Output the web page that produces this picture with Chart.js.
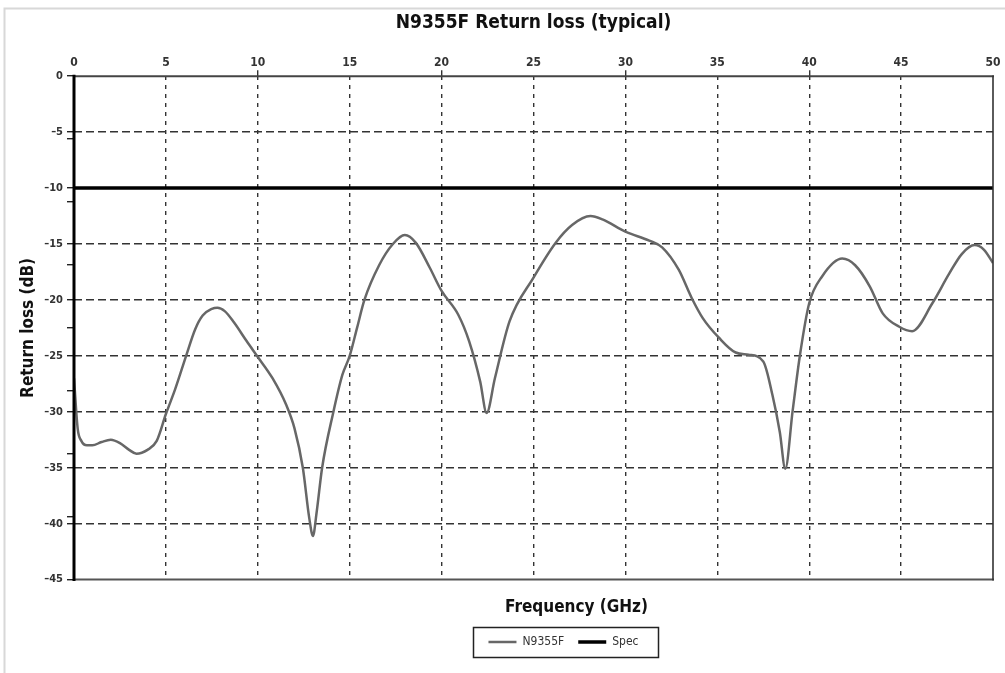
<!DOCTYPE html>
<html lang="es">
<head>
<meta charset="utf-8">
<title>N9355F Return loss (typical)</title>
<script src="https://cdn.jsdelivr.net/npm/chart.js@4.4.0/dist/chart.umd.min.js"></script>
<style>
  html, body { margin: 0; padding: 0; background: #fff; }
</style>
</head>
<body>
<canvas id="grafico" width="1005" height="673"></canvas>
<script>
// valores (frecuencia en GHz, perdida de retorno en dB)
const frecuencias = [
    0, 0.2, 0.4, 0.7, 1.0, 1.5, 2.0, 2.5, 3.0, 3.4, 4.0, 4.5, 5.0, 5.5, 6.1, 6.6,
    7.0, 7.5, 7.8, 8.2, 8.7, 9.4, 10.0, 10.8, 11.55, 12.0, 12.45, 12.8, 13.0, 13.2,
    13.5, 14.1, 14.6, 15.0, 15.4, 15.8, 16.6, 17.35, 18.0, 18.6, 19.35, 20.0, 20.9,
    21.5, 22.1, 22.45, 22.9, 23.7, 25.0, 26.2, 27.1, 28.1, 28.75, 30.0, 31.3, 32.0,
    32.9, 33.6, 34.2, 35.1, 36.0, 36.7, 37.5, 38.0, 38.4, 38.7, 39.1, 39.5, 40.0,
    40.7, 41.8, 42.5, 43.3, 44.0, 44.9, 45.6, 46.7, 47.6, 48.3, 49.0, 49.5, 50.0
]
const perdidaRetorno = [
    -27, -31.5, -32.6, -33.0, -33.0, -32.7, -32.5, -32.8, -33.4, -33.75, -33.4, -32.6,
    -30.2, -28.0, -25.0, -22.6, -21.4, -20.8, -20.7, -21.0, -22.0, -23.7, -25.1, -27.0,
    -29.4, -31.5, -35.0, -39.5, -41.1, -39.0, -35.0, -30.1, -26.7, -25.0, -22.5, -20.0,
    -16.9, -15.0, -14.2, -14.9, -17.1, -19.2, -21.3, -23.7, -27.3, -30.1, -27.0, -21.9,
    -18.0, -14.9, -13.3, -12.5, -12.8, -13.9, -14.7, -15.3, -17.3, -19.8, -21.6, -23.4,
    -24.7, -24.9, -25.5, -28.5, -31.8, -35.1, -29.9, -24.9, -20.3, -17.9, -16.3, -16.9,
    -18.8, -21.2, -22.4, -22.8, -20.3, -17.7, -15.9, -15.1, -15.5, -16.7
]
const frecuenciasSpec = [0, 50]
const valoresSpec = [-10, -10]

const ticksX = [0, 5, 10, 15, 20, 25, 30, 35, 40, 45, 50]
const ticksY = [0, -5, -10, -15, -20, -25, -30, -35, -40, -45]
const etiquetasY = ['0', '–5', '–10', '–15', '–20', '–25', '–30', '–35', '–40', '–45']
// marcas pequeñas del eje y (8 divisiones)
const ticksYMenores = [0, -5.625, -11.25, -16.875, -22.5, -28.125, -33.75, -39.375, -45]

const fuente = "'Liberation Sans Narrow', 'DejaVu Sans Condensed', 'Arial Narrow', sans-serif"
const transparente = 'rgba(0,0,0,0)'

// marco exterior, borde del area del grafico y caja de la leyenda
const marcoGrafico = {
    id: 'marcoGrafico',
    afterLayout: (chart) => {
        // el original tiene el titulo del eje x y la leyenda corridos a la derecha
        chart.scales.x2.left += 43
        chart.scales.x2.right += 43
        chart.legend.left += 30
        chart.legend.right += 30
    },
    afterDraw: (chart) => {
        const { ctx, chartArea: a } = chart
        ctx.save()
        ctx.lineCap = 'square'

        ctx.strokeStyle = '#444'
        ctx.lineWidth = 2
        ctx.beginPath()
        ctx.moveTo(a.left, a.top)
        ctx.lineTo(a.right, a.top)
        ctx.stroke()

        ctx.strokeStyle = '#555'
        ctx.beginPath()
        ctx.moveTo(a.left, a.bottom)
        ctx.lineTo(a.right, a.bottom)
        ctx.stroke()

        ctx.strokeStyle = '#333'
        ctx.lineWidth = 1.6
        ctx.beginPath()
        ctx.moveTo(a.right, a.top)
        ctx.lineTo(a.right, a.bottom)
        ctx.stroke()

        ctx.strokeStyle = '#000'
        ctx.lineWidth = 3
        ctx.beginPath()
        ctx.moveTo(a.left, a.top)
        ctx.lineTo(a.left, a.bottom)
        ctx.stroke()

        // caja de la leyenda
        const cajas = chart.legend.legendHitBoxes
        if (cajas && cajas.length) {
            const izq = Math.min(...cajas.map(c => c.left)) - 15
            const der = Math.max(...cajas.map(c => c.left + c.width)) + 20
            const medio = cajas[0].top + cajas[0].height / 2
            ctx.strokeStyle = '#222'
            ctx.lineWidth = 1.5
            ctx.strokeRect(Math.round(izq) + 0.5, Math.round(medio - 15) + 0.5, Math.round(der - izq), 30)
        }

        // marco gris exterior
        ctx.strokeStyle = '#d8d8d8'
        ctx.lineWidth = 2
        ctx.lineCap = 'butt'
        ctx.beginPath()
        ctx.moveTo(4.5, 673)
        ctx.lineTo(4.5, 8.5)
        ctx.lineTo(1005, 8.5)
        ctx.stroke()
        ctx.restore()
    }
}

const datosCurva = frecuencias.map((f, i) => ({ x: f, y: perdidaRetorno[i] }))
const datosSpec = frecuenciasSpec.map((f, i) => ({ x: f, y: valoresSpec[i] }))

new Chart(document.getElementById('grafico'), {
    type: 'line',
    data: {
        datasets: [
            {
                label: 'N9355F',
                data: datosCurva,
                borderColor: '#676767',
                backgroundColor: '#676767',
                borderWidth: 2.5,
                pointRadius: 0,
                cubicInterpolationMode: 'monotone',
                xAxisID: 'x',
                yAxisID: 'y'
            },
            {
                label: 'Spec',
                data: datosSpec,
                borderColor: '#000',
                backgroundColor: '#000',
                borderWidth: 3.5,
                pointRadius: 0,
                xAxisID: 'x',
                yAxisID: 'y'
            }
        ]
    },
    options: {
        responsive: false,
        animation: false,
        layout: { padding: { left: 8, right: 12, top: 6, bottom: 15 } },
        plugins: {
            title: {
                display: true,
                text: 'N9355F Return loss (typical)',
                fullSize: false,
                color: '#111',
                font: { family: fuente, size: 19, weight: 'bold' },
                padding: { top: 6, bottom: 21 }
            },
            legend: {
                position: 'bottom',
                fullSize: false,
                labels: {
                    usePointStyle: true,
                    pointStyle: 'line',
                    pointStyleWidth: 28,
                    color: '#333',
                    font: { family: fuente, size: 12 },
                    padding: 14
                }
            },
            tooltip: { enabled: false }
        },
        scales: {
            x: {
                type: 'linear',
                position: 'top',
                min: 0,
                max: 50,
                afterBuildTicks: (s) => { s.ticks = ticksX.map(v => ({ value: v })) },
                ticks: {
                    color: '#333',
                    font: { family: fuente, size: 12, weight: 'bold' },
                    padding: 0,
                    maxRotation: 0,
                    autoSkip: false
                },
                grid: {
                    color: (c) => (c.tick.value === 0 || c.tick.value === 50) ? transparente : '#333',
                    tickColor: (c) => (c.tick.value % 10 === 0 && c.tick.value > 0 && c.tick.value < 50) ? '#333' : transparente,
                    tickLength: 6,
                    lineWidth: 1.4
                },
                border: { display: false, dash: [4, 5] }
            },
            x2: {
                type: 'linear',
                position: 'bottom',
                min: 0,
                max: 50,
                ticks: { display: false },
                grid: { display: false },
                border: { display: false },
                title: {
                    display: true,
                    text: 'Frequency (GHz)',
                    color: '#111',
                    font: { family: fuente, size: 17, weight: 'bold' },
                    padding: { top: 10, bottom: 4 }
                }
            },
            y: {
                type: 'linear',
                position: 'left',
                min: -45,
                max: 0,
                afterBuildTicks: (s) => {
                    const valores = [...new Set([...ticksY, ...ticksYMenores])].sort((a, b) => a - b)
                    s.ticks = valores.map(v => ({ value: v }))
                },
                afterFit: (s) => { s.width = 66 },
                ticks: {
                    autoSkip: false,
                    color: '#333',
                    font: { family: fuente, size: 11, weight: 'bold' },
                    padding: 4,
                    callback: (valor) => {
                        const i = ticksY.indexOf(valor)
                        return i >= 0 ? etiquetasY[i] : ''
                    }
                },
                grid: {
                    color: (c) => {
                        const v = c.tick.value
                        if (!ticksY.includes(v) || v === 0 || v === -10 || v === -45) return transparente
                        return '#333'
                    },
                    tickColor: '#222',
                    tickLength: 7,
                    lineWidth: 1.4
                },
                border: { display: false, dash: [8, 4] },
                title: {
                    display: true,
                    text: 'Return loss (dB)',
                    color: '#111',
                    font: { family: fuente, size: 17, weight: 'bold' },
                    padding: { top: 10, bottom: 4 }
                }
            }
        }
    },
    plugins: [marcoGrafico]
})
</script>
</body>
</html>
